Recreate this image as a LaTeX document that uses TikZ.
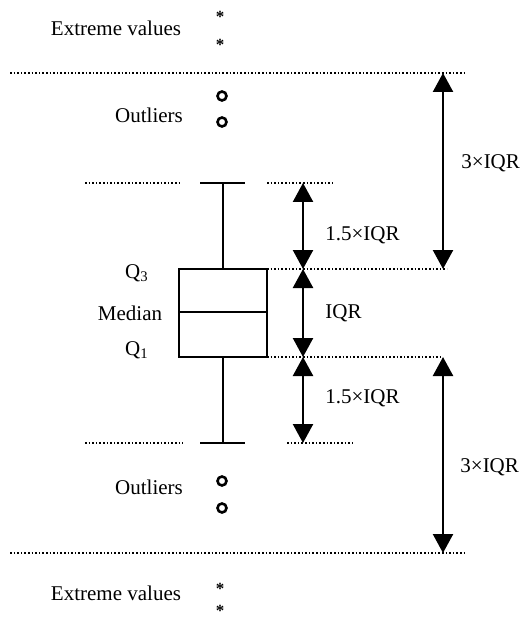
\documentclass[tikz,border=0pt]{standalone}
\usepackage{fontspec}
\setmainfont{Liberation Serif}
\usetikzlibrary{arrows.meta}

\begin{document}
\begin{tikzpicture}[
    x=0.5pt, y=-0.5pt,
    dots/.style={densely dotted, line width=0.8pt},
    arr/.style={line width=1.2pt,
        {Triangle[width=10pt,length=9.5pt]}-{Triangle[width=10pt,length=9.5pt]}},
    lab/.style={font=\fontsize{10.5}{12}\selectfont, inner sep=0pt},
    outl/.style={circle, draw, line width=1.3pt, minimum size=4.5pt, inner sep=0pt},
    ast/.style={font=\bfseries\fontsize{8.5}{9}\selectfont, inner sep=0pt, yshift=-1.5pt},
  ]
  \useasboundingbox (0,0) rectangle (524,620);

  % levels of the box plot
  \coordinate (hi) at (223,183);
  \coordinate (q3) at (223,269);
  \coordinate (q1) at (223,357);
  \coordinate (lo) at (223,443);

  % guide lines
  \draw[dots] (10,73) -- (467,73);
  \draw[dots] (10,553) -- (467,553);
  \draw[dots] (85,183) -- (180,183);
  \draw[dots] (267,183) -- (332,183);
  \draw[dots] (85,443) -- (183,443);
  \draw[dots] (287,443) -- (352,443);
  \draw[dots] (267,269) -- (447,269);
  \draw[dots] (267,357) -- (443,357);

  % box and whiskers
  \draw[line width=1pt] (179,269) rectangle (267,357);
  \draw[line width=1pt] (179,312) -- (267,312);
  \draw[line width=0.8pt] (hi) -- (q3);
  \draw[line width=0.8pt] (q1) -- (lo);
  \draw[line width=1.1pt] (200,183) -- (245,183);
  \draw[line width=1.1pt] (200,443) -- (245,443);

  % outliers and extreme values
  \foreach \y [count=\i] in {96,122,481,508} {
      \node[outl] (o\i) at (222,\y) {};
    }
  \foreach \y [count=\i] in {14,42,586,608} {
      \node[ast] (e\i) at (220,\y) {*};
    }

  % range arrows
  \foreach \i/\y in {0/183,1/269,2/357,3/443} {
      \coordinate (a\i) at (303,\y);
    }
  \foreach \i/\y in {0/73,1/269,2/357,3/553} {
      \coordinate (b\i) at (443,\y);
    }
  \foreach \p/\q in {a0/a1,a1/a2,a2/a3,b0/b1,b2/b3} {
      \draw[arr] (\p) -- (\q);
    }

  % labels
  \node[lab] (ev1) at (116,28) {Extreme values};
  \node[lab] (ev2) at (116,593) {Extreme values};
  \node[lab] (ol1) at (149,115) {Outliers};
  \node[lab] (ol2) at (149,487) {Outliers};
  \node[lab] (lq3) at (137,273) {Q\textsubscript{3}};
  \node[lab] (lmed) at (130,313) {Median};
  \node[lab] (lq1) at (137,350) {Q\textsubscript{1}};

  \node[lab, anchor=west] (r1) at (325,235) {1.5×IQR};
  \node[lab, anchor=west] (r2) at (325,313) {IQR};
  \node[lab, anchor=west] (r3) at (325,398) {1.5×IQR};
  \node[lab, anchor=west] (r4) at (461,163) {3×IQR};
  \node[lab, anchor=west] (r5) at (460,467) {3×IQR};
\end{tikzpicture}
\end{document}
